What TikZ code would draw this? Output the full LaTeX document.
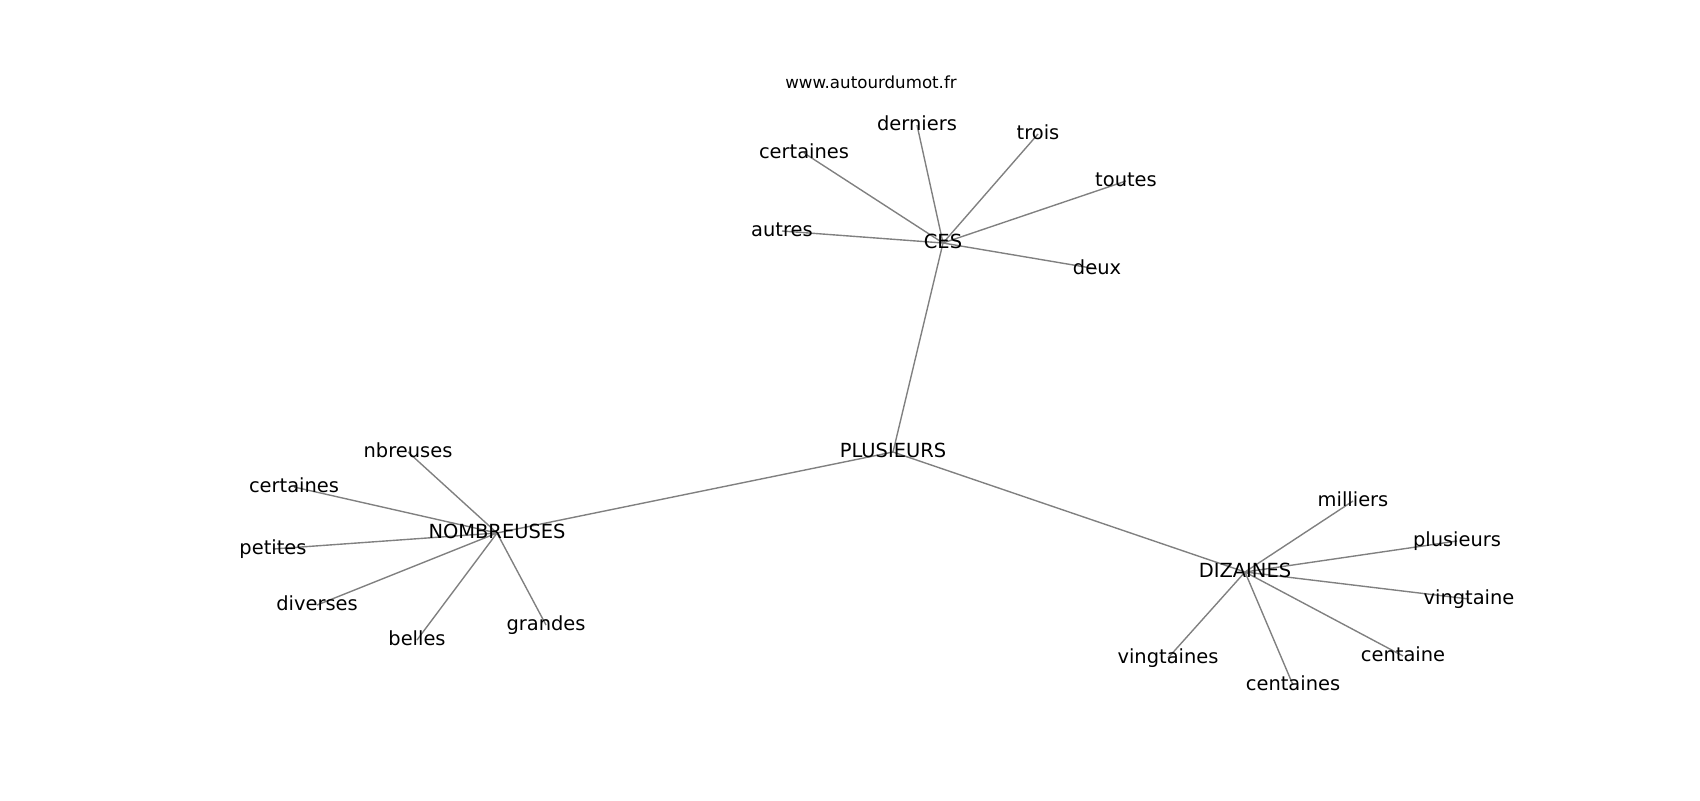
\documentclass[tikz,border=0pt]{standalone}
\usepackage{fontspec}
\setmainfont{DejaVu Sans}
\usetikzlibrary{backgrounds}
\tikzset{
  word/.style={inner sep=0pt, anchor=center, text height=10.64pt, text depth=2.91pt, font=\fontsize{14}{16}\selectfont},
  site/.style={inner sep=0pt, anchor=center, text height=9.12pt, text depth=2.5pt, font=\fontsize{12}{14}\selectfont},
  link/.style={draw=black!50, line width=1pt}
}
\begin{document}
\begin{tikzpicture}[x=0.72pt, y=-0.72pt]
	\useasboundingbox (0,0) rectangle (1700,800);
	\node[site] (site) at (871, 84) {www.autourdumot.fr};
	\node[word] (ces) at (943, 243) {CES};
	\node[word] (plusieurs) at (893, 452) {PLUSIEURS};
	\node[word] (nombreuses) at (497, 533) {NOMBREUSES};
	\node[word] (dizaines) at (1245, 572) {DIZAINES};
	\node[word] (cesDerniers) at (917, 125) {derniers};
	\node[word] (cesTrois) at (1038, 134) {trois};
	\node[word] (cesCertaines) at (804, 153) {certaines};
	\node[word] (cesToutes) at (1126, 181) {toutes};
	\node[word] (cesAutres) at (782, 231) {autres};
	\node[word] (cesDeux) at (1097, 269) {deux};
	\node[word] (nbNbreuses) at (408, 452) {nbreuses};
	\node[word] (nbCertaines) at (294, 487) {certaines};
	\node[word] (nbPetites) at (273, 549) {petites};
	\node[word] (nbDiverses) at (317, 605) {diverses};
	\node[word] (nbBelles) at (417, 640) {belles};
	\node[word] (nbGrandes) at (546, 625) {grandes};
	\node[word] (dzMilliers) at (1353, 501) {milliers};
	\node[word] (dzPlusieurs) at (1457, 541) {plusieurs};
	\node[word] (dzVingtaine) at (1469, 599) {vingtaine};
	\node[word] (dzCentaine) at (1403, 656) {centaine};
	\node[word] (dzCentaines) at (1293, 685) {centaines};
	\node[word] (dzVingtaines) at (1168, 658) {vingtaines};
	\begin{pgfonlayer}{background}
		\draw[link] (plusieurs.center) -- (ces.center);
		\draw[link] (plusieurs.center) -- (nombreuses.center);
		\draw[link] (plusieurs.center) -- (dizaines.center);
		\draw[link] (ces.center) -- (cesDerniers.center);
		\draw[link] (ces.center) -- (cesTrois.center);
		\draw[link] (ces.center) -- (cesCertaines.center);
		\draw[link] (ces.center) -- (cesToutes.center);
		\draw[link] (ces.center) -- (cesAutres.center);
		\draw[link] (ces.center) -- (cesDeux.center);
		\draw[link] (nombreuses.center) -- (nbNbreuses.center);
		\draw[link] (nombreuses.center) -- (nbCertaines.center);
		\draw[link] (nombreuses.center) -- (nbPetites.center);
		\draw[link] (nombreuses.center) -- (nbDiverses.center);
		\draw[link] (nombreuses.center) -- (nbBelles.center);
		\draw[link] (nombreuses.center) -- (nbGrandes.center);
		\draw[link] (dizaines.center) -- (dzMilliers.center);
		\draw[link] (dizaines.center) -- (dzPlusieurs.center);
		\draw[link] (dizaines.center) -- (dzVingtaine.center);
		\draw[link] (dizaines.center) -- (dzCentaine.center);
		\draw[link] (dizaines.center) -- (dzCentaines.center);
		\draw[link] (dizaines.center) -- (dzVingtaines.center);
	\end{pgfonlayer}
\end{tikzpicture}
\end{document}
